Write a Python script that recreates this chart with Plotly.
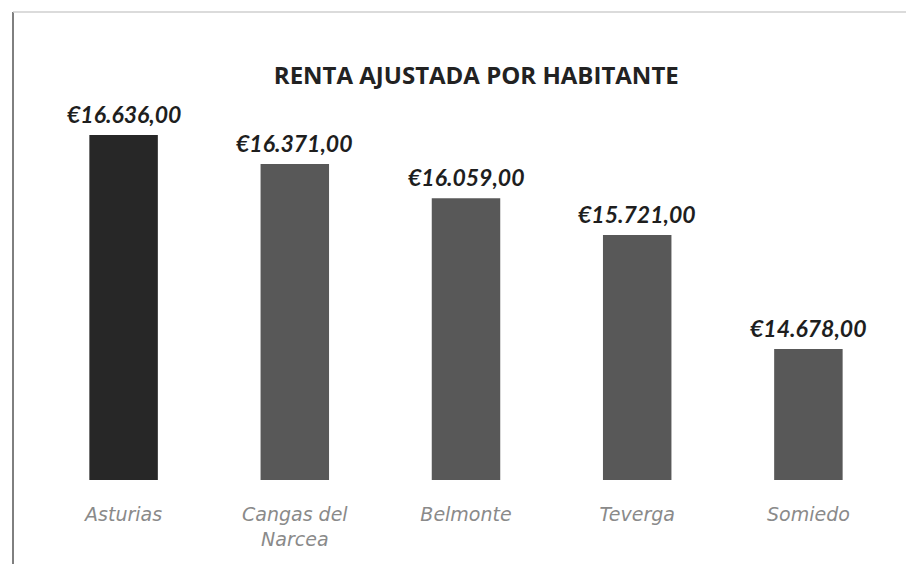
import plotly.graph_objects as go

# Datos
municipios = ["Asturias", "Cangas del<br>Narcea", "Belmonte", "Teverga", "Somiedo"]
renta = [16636, 16371, 16059, 15721, 14678]
etiquetas = ["€16.636,00", "€16.371,00", "€16.059,00", "€15.721,00", "€14.678,00"]
colores = ["#272727", "#585858", "#585858", "#585858", "#585858"]

fig = go.Figure()
fig.add_trace(go.Bar(
    x=municipios,
    y=renta,
    marker=dict(color=colores, line=dict(width=0)),
    width=0.4,
    hoverinfo="skip",
))

# etiquetas de valor encima de cada barra
for m, v, t in zip(municipios, renta, etiquetas):
    fig.add_annotation(
        x=m, y=v, text=t, showarrow=False,
        yanchor="bottom", yshift=5,
        font=dict(family="Lato", size=23, color="#1e1e1e", weight="bold", style="italic"),
    )

# marco del gráfico (escaneado: borde izquierdo y superior)
fig.add_shape(type="line", xref="paper", yref="paper",
              x0=-0.0292, x1=-0.0292, y0=1.2316, y1=-0.25,
              line=dict(color="#555555", width=1.5))
fig.add_shape(type="line", xref="paper", yref="paper",
              x0=-0.0292, x1=1.04, y0=1.2316, y1=1.2316,
              line=dict(color="#cfcfcf", width=1.5))

fig.update_layout(
    width=914, height=564,
    margin=dict(l=30, r=28, t=92, b=92),
    paper_bgcolor="white",
    plot_bgcolor="white",
    showlegend=False,
    title=dict(
        text="<b>RENTA AJUSTADA POR HABITANTE</b>",
        x=0.512, xref="paper", xanchor="center",
        y=0.881, yref="container", yanchor="middle",
        font=dict(family="Open Sans", size=24, color="#222222"),
    ),
    xaxis=dict(
        showline=False, showgrid=False, ticks="",
        ticklabelstandoff=21,
        tickfont=dict(family="DejaVu Sans", size=19, color="#8a8a8a", style="italic"),
    ),
    yaxis=dict(
        range=[13480, 16957],
        visible=False,
        showgrid=False,
    ),
)

fig.write_html("out.html")
